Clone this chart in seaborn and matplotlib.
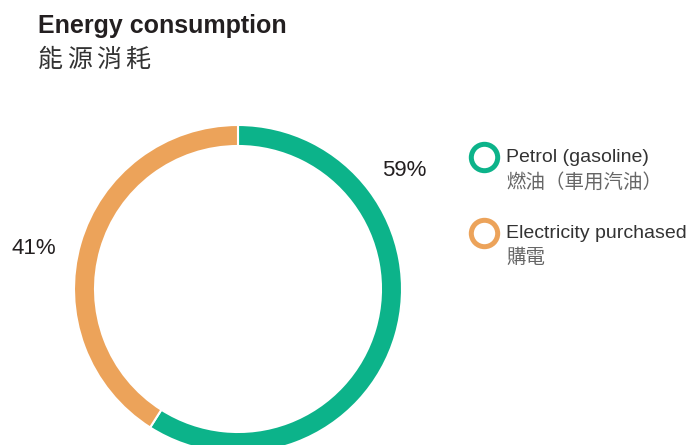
import matplotlib.pyplot as plt
import seaborn as sns

# data
labels_en = ["Petrol (gasoline)", "Electricity purchased"]
labels_zh = ["燃油（車用汽油）", "購電"]
shares = [59, 41]
colors = ["#0cb38a", "#eca35a"]
title_en = "Energy consumption"
title_zh = "能源消耗"

sns.set_theme(style="white")
plt.rcParams['font.family'] = ['Liberation Sans', 'Noto Sans CJK TC', 'DejaVu Sans']

fig = plt.figure(figsize=(6.98, 4.45), dpi=100)
ax = fig.add_axes([0, 0, 1, 1])

# donut (pixel coordinates, y up)
ax.pie(shares, colors=sns.color_palette(colors), startangle=90, counterclock=False,
       center=(238, 445 - 289), radius=164, frame=True,
       wedgeprops=dict(width=21, edgecolor='white', linewidth=1.5))
ax.set_xlim(0, 698)
ax.set_ylim(0, 445)
ax.set_aspect('equal')
ax.axis('off')

# percentage labels
ax.text(404, 445 - 171, f"{shares[0]}%", fontsize=16, color='#231f20',
        ha='center', va='center')
ax.text(34, 445 - 249, f"{shares[1]}%", fontsize=16, color='#231f20',
        ha='center', va='center')

# title
ax.text(38, 445 - 26, title_en, fontsize=18, fontweight='bold',
        color='#231f20', va='center', ha='left')
for i, ch in enumerate(title_zh):
    ax.text(38 + i * 29, 445 - 60, ch, fontsize=18, color='#333333',
            va='center', ha='left')

# legend
leg_y = [157, 233]
for en, zh, c, y in zip(labels_en, labels_zh, colors, leg_y):
    ax.plot(484, 445 - y, marker='o', markersize=19, markerfacecolor='white',
            markeredgecolor=c, markeredgewidth=3.6)
    ax.text(506, 445 - y, en, fontsize=14, color='#333333', va='center', ha='left')
    ax.text(506, 445 - y - 25, zh, fontsize=14, color='#666666', va='center', ha='left')

fig.savefig("out.png", dpi=100)
